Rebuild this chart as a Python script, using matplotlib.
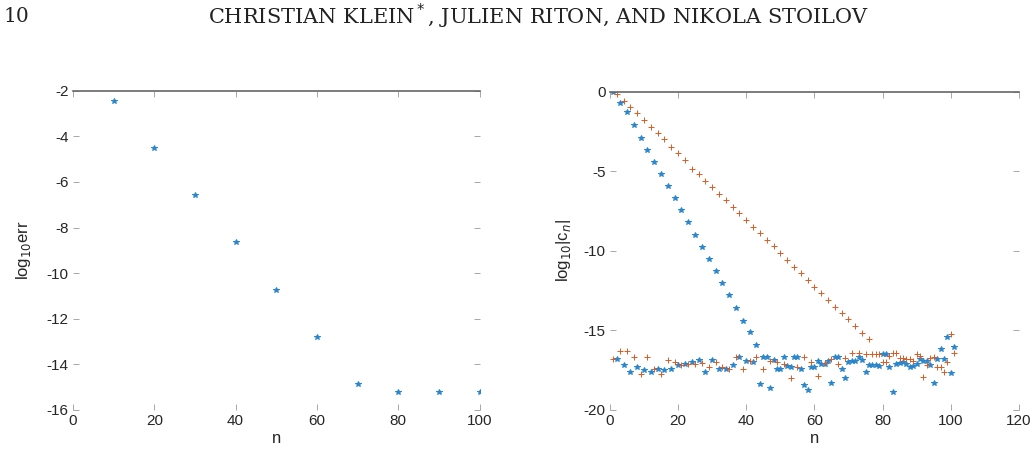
import numpy as np
import matplotlib
matplotlib.use("Agg")
import matplotlib.pyplot as plt

plt.rcParams['font.family'] = ['Liberation Sans', 'DejaVu Sans']
plt.rcParams['axes.unicode_minus'] = False

# left panel: error vs n
n_err = [10, 20, 30, 40, 50, 60, 70, 80, 90, 100]
log_err = [-2.44, -4.5, -6.59, -8.65, -10.74, -12.82, -14.88, -15.21, -15.21, -15.21]

# right panel: coefficients, n = 1..101
n_coef = list(range(1, 102))
blue_c = [-0.05, -16.8, -0.7, -17.2, -1.3, -17.6, -2.1, -17.3, -2.9, -17.5,
          -3.65, -17.6, -4.4, -17.4, -5.2, -17.5, -5.95, -17.4, -6.7, -17.15,
          -7.45, -17.1, -8.2, -17.0, -9.0, -16.85, -9.75, -17.6, -10.5, -16.85,
          -11.25, -17.45, -12.05, -17.4, -12.8, -17.2, -13.6, -16.65, -14.4, -16.95,
          -15.1, -17.0, -15.9, -18.35, -16.7, -16.7, -18.6, -16.85, -17.4, -17.45,
          -16.7, -17.25, -17.3, -16.7, -16.7, -17.45, -18.4, -18.75, -17.3, -17.3,
          -16.95, -17.1, -17.1, -16.9, -18.3, -16.7, -16.7, -17.4, -18.0, -17.0,
          -16.9, -16.9, -16.7, -16.85, -17.6, -17.2, -17.2, -17.15, -17.25, -16.5,
          -16.5, -17.3, -18.9, -17.1, -17.05, -17.0, -17.1, -17.3, -17.25, -17.1,
          -16.8, -16.95, -16.95, -17.2, -18.3, -16.8, -16.2, -16.8, -15.4, -17.65,
          -16.05]
orange_c = [-16.8, -0.15, -16.3, -0.57, -16.3, -0.95, -16.7, -1.32, -17.75, -1.78,
            -16.65, -2.2, -17.4, -2.62, -17.75, -3.0, -16.85, -3.45, -17.0, -3.88,
            -17.2, -4.3, -17.1, -4.86, -17.1, -5.2, -17.05, -5.6, -17.3, -6.0,
            -17.0, -6.4, -17.3, -6.8, -17.4, -7.23, -16.7, -7.6, -17.4, -8.07,
            -16.9, -8.49, -16.65, -8.9, -17.45, -9.33, -16.9, -9.69, -17.0, -10.13,
            -17.1, -10.59, -18.0, -11.0, -17.3, -11.4, -16.65, -11.84, -17.0, -12.25,
            -17.85, -12.64, -17.05, -13.06, -16.8, -13.52, -17.1, -13.9, -16.75, -14.3,
            -16.4, -14.75, -16.4, -15.16, -16.5, -15.55, -16.5, -16.5, -16.5, -17.0,
            -17.0, -16.6, -16.4, -16.4, -16.75, -16.75, -16.8, -16.8, -16.9, -16.5,
            -16.6, -17.9, -17.2, -16.75, -16.7, -17.3, -17.3, -17.6, -17.0, -15.2,
            -16.4]

blue = '#2a86cc'
orange = '#dd5a22'

fig = plt.figure(figsize=(10.32, 4.59), dpi=100)

# page header
fig.text(0.003, 0.965, '10', family='DejaVu Serif', fontsize=14.5, va='center', ha='left',
         color='#222222')
fig.text(0.522, 0.965, 'CHRISTIAN KLEIN$^*$, JULIEN RITON, AND NIKOLA STOILOV',
         family='DejaVu Serif', fontsize=15, va='center', ha='center', color='#222222')

def style(ax):
    for s in ['left', 'bottom', 'right']:
        ax.spines[s].set_visible(False)
    ax.spines['top'].set_color('#666666')
    ax.spines['top'].set_linewidth(1.2)
    ax.tick_params(direction='in', length=4, width=0.6, color='#999999',
                   top=True, right=True, labelsize=11, labelcolor='#262626', pad=3)

ax1 = fig.add_axes([0.0707, 0.1068, 0.394, 0.6957])
ax1.plot(n_err, log_err, '*', color=blue, ms=4, mew=0.7)
ax1.set_xlim(0, 100)
ax1.set_ylim(-16, -2)
ax1.set_xticks([0, 20, 40, 60, 80, 100])
ax1.set_yticks([-16, -14, -12, -10, -8, -6, -4, -2])
ax1.set_xlabel('n', fontsize=12, color='#262626', labelpad=2)
ax1.set_ylabel('log$_{10}$err', fontsize=12, color='#262626', labelpad=10)
style(ax1)

ax2 = fig.add_axes([0.591, 0.1068, 0.3963, 0.6935])
ax2.plot(n_coef, blue_c, '*', color=blue, ms=4, mew=0.7)
ax2.plot(n_coef, orange_c, '+', color=orange, ms=4.5, mew=0.7)
ax2.set_xlim(0, 120)
ax2.set_ylim(-20, 0)
ax2.set_xticks([0, 20, 40, 60, 80, 100, 120])
ax2.set_yticks([-20, -15, -10, -5, 0])
ax2.set_xlabel('n', fontsize=12, color='#262626', labelpad=2)
ax2.set_ylabel('log$_{10}$|c$_n$|', fontsize=12, color='#262626', labelpad=8)
style(ax2)

fig.savefig('out.png', dpi=100)
